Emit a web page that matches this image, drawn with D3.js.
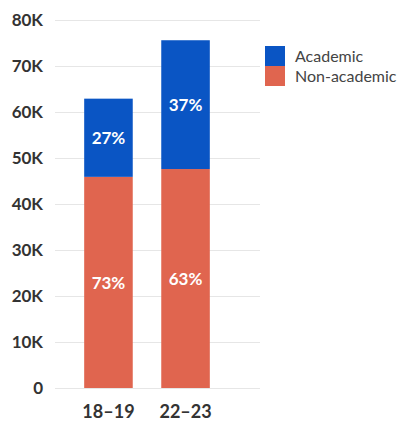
<!DOCTYPE html>
<html>
<head>
<meta charset="utf-8">
<script src="https://cdn.jsdelivr.net/npm/d3@7"></script>
<style>
  html, body { margin: 0; padding: 0; background: #fff; }
  svg { display: block; }
</style>
</head>
<body>
<svg id="chart" width="403" height="423"></svg>
<script>
// Stacked enrolment counts (thousands) per academic year
const years = ["18\u201319", "22\u201323"];
const nonAcademic = [45.9, 47.6];
const academic = [17.0, 28.0];
const seriesNames = ["Academic", "Non-academic"];
const yTicks = [0, 10, 20, 30, 40, 50, 60, 70, 80];

const colors = { "Academic": "#0a55c4", "Non-academic": "#e0654f" };
const font = "Lato, 'Open Sans', sans-serif";

const svg = d3.select("#chart");
const margin = { top: 20, left: 55, bottom: 35 };
const plotRight = 260;
const plotBottom = 388;

const x = d3.scaleBand()
  .domain(years)
  .range([margin.left + 13, margin.left + 13 + 158])
  .paddingInner(0.37)
  .paddingOuter(0.21);

const y = d3.scaleLinear().domain([0, 80]).range([plotBottom, margin.top]);

// Grid lines and y labels
const yAxis = svg.append("g")
  .attr("transform", `translate(${margin.left},0)`)
  .call(d3.axisLeft(y).tickValues(yTicks)
    .tickSize(-(plotRight - margin.left))
    .tickPadding(12)
    .tickFormat(d => d === 0 ? "0" : d + "K"));
yAxis.select(".domain").remove();
yAxis.selectAll(".tick line").attr("stroke", "#e6e6e6").attr("stroke-width", 1);
yAxis.selectAll(".tick text")
  .attr("fill", "#333")
  .style("font-family", font)
  .style("font-weight", "700")
  .style("font-size", "17px");

// Stack the two series
const rows = years.map((yr, i) => ({ year: yr, "Non-academic": nonAcademic[i], "Academic": academic[i] }));
const stack = d3.stack().keys(["Non-academic", "Academic"]);
const layers = stack(rows);

const g = svg.append("g");
layers.forEach(layer => {
  g.selectAll(null)
    .data(layer)
    .enter().append("rect")
    .attr("x", d => x(d.data.year))
    .attr("width", x.bandwidth())
    .attr("y", d => y(d[1]))
    .attr("height", d => y(d[0]) - y(d[1]))
    .attr("fill", colors[layer.key]);

  g.selectAll(null)
    .data(layer)
    .enter().append("text")
    .attr("x", d => x(d.data.year) + x.bandwidth() / 2)
    .attr("y", d => (y(d[0]) + y(d[1])) / 2)
    .attr("dy", "0.36em")
    .attr("text-anchor", "middle")
    .attr("fill", "#fff")
    .style("font-family", font)
    .style("font-weight", "700")
    .style("font-size", "17px")
    .text(d => {
      const total = d.data["Non-academic"] + d.data["Academic"];
      return Math.round((d[1] - d[0]) / total * 100) + "%";
    });
});

// x labels
const xAxis = svg.append("g")
  .attr("transform", `translate(0,${plotBottom})`)
  .call(d3.axisBottom(x).tickSize(0).tickPadding(17));
xAxis.select(".domain").remove();
xAxis.selectAll(".tick text")
  .attr("fill", "#333")
  .style("font-family", font)
  .style("font-weight", "700")
  .style("font-size", "18px");

// Legend
const legend = svg.append("g").attr("transform", "translate(265,46)");
seriesNames.forEach((name, i) => {
  const row = legend.append("g").attr("transform", `translate(0,${i * 20})`);
  row.append("rect").attr("width", 20).attr("height", 20).attr("fill", colors[name]);
  row.append("text")
    .attr("x", 30).attr("y", 10).attr("dy", "0.35em")
    .attr("fill", "#444")
    .style("font-family", font)
    .style("font-size", "16px")
    .text(name);
});
</script>
</body>
</html>
